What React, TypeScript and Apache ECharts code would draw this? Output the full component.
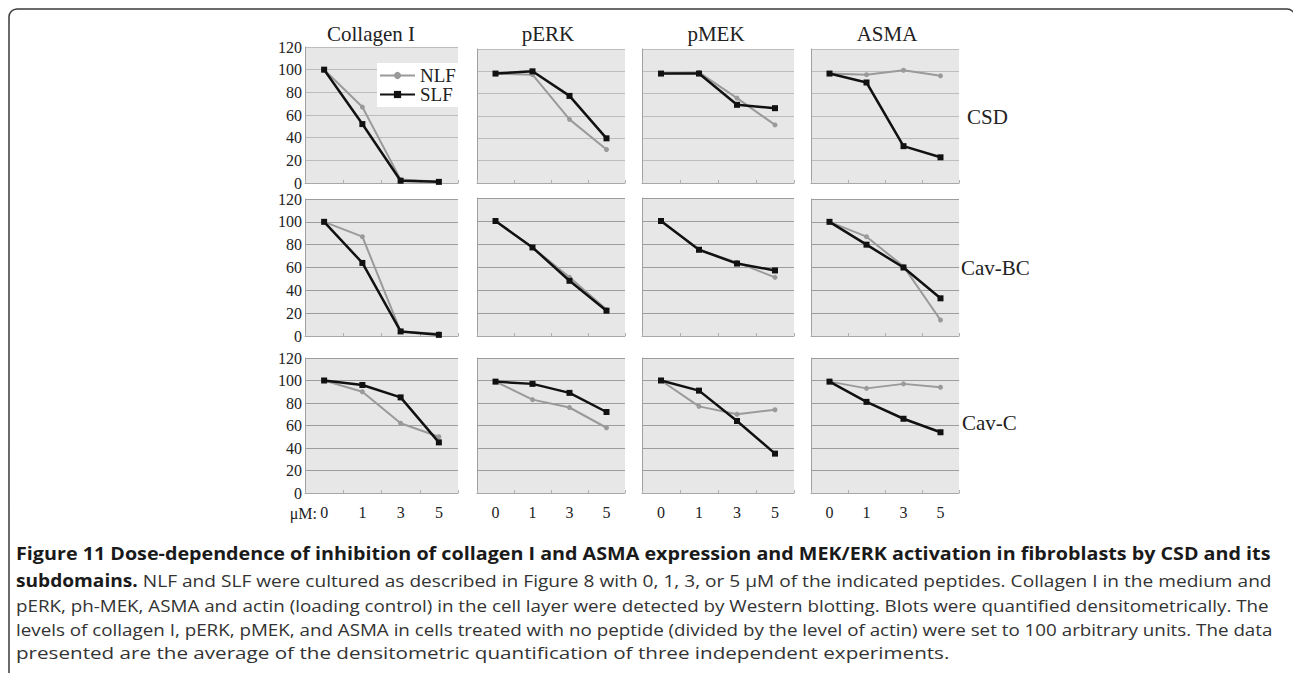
import React, { useEffect, useRef } from "react";
import * as echarts from "echarts";

// ---- data ----
const categories = ["0", "1", "3", "5"];
const panelTitles = ["Collagen I", "pERK", "pMEK", "ASMA"];
const rowLabels = ["CSD", "Cav-BC", "Cav-C"];
const yTicks = { min: 0, max: 120, interval: 20 };

// each row: [Collagen I, pERK, pMEK, ASMA], values at 0, 1, 3, 5 µM
const nlfCSD = [
  [100, 67, 3, 1],
  [98, 97, 57, 30],
  [98, 99, 76, 52],
  [98, 97, 101, 96],
];
const slfCSD = [
  [100, 52, 2, 1],
  [98, 100, 78, 40],
  [98, 98, 70, 67],
  [98, 90, 33, 23],
];
const nlfCavBC = [
  [100, 87, 4, 2],
  [100, 77, 51, 23],
  [100, 75, 64, 51],
  [100, 87, 61, 14],
];
const slfCavBC = [
  [100, 64, 4, 1],
  [100, 77, 48, 22],
  [100, 75, 63, 57],
  [100, 80, 60, 33],
];
const nlfCavC = [
  [100, 90, 62, 50],
  [99, 83, 76, 58],
  [100, 77, 70, 74],
  [99, 93, 97, 94],
];
const slfCavC = [
  [100, 96, 85, 45],
  [99, 97, 89, 72],
  [100, 91, 64, 35],
  [99, 81, 66, 54],
];

const captionBold1 =
  "Figure 11 Dose-dependence of inhibition of collagen I and ASMA expression and MEK/ERK activation in fibroblasts by CSD and its";
const captionBold2 = "subdomains.";
const captionLine2 =
  " NLF and SLF were cultured as described in Figure 8 with 0, 1, 3, or 5 μM of the indicated peptides. Collagen I in the medium and";
const captionLine3 =
  "pERK, ph-MEK, ASMA and actin (loading control) in the cell layer were detected by Western blotting. Blots were quantified densitometrically. The";
const captionLine4 =
  "levels of collagen I, pERK, pMEK, and ASMA in cells treated with no peptide (divided by the level of actin) were set to 100 arbitrary units. The data";
const captionLine5 =
  "presented are the average of the densitometric quantification of three independent experiments.";

// ---- layout (pixels) ----
const colLeft = [305, 477, 642, 811];
const colWidth = [153, 148, 152, 148];
const rowTop = [
  [47, 49, 49, 49],
  [199, 198, 198, 199],
  [358, 358, 358, 358],
];
const rowBottom = [183, 336, 493];
const titleX = [371, 548, 716, 887];
const rowLabelPos = [
  [967, 117],
  [961, 268],
  [962, 423],
];

const SERIF = '"Liberation Serif", "Times New Roman", serif';
const SANS = '"Open Sans", "Noto Sans", sans-serif';

function measure(text: string, font: string): number {
  const c = document.createElement("canvas");
  const ctx = c.getContext("2d")!;
  ctx.font = font;
  return ctx.measureText(text).width;
}

export default function App() {
  const ref = useRef<HTMLDivElement>(null);

  useEffect(() => {
    document.body.style.margin = "0";
    const chart = echarts.init(ref.current!, null, { renderer: "svg" });

    const nlfRows = [nlfCSD, nlfCavBC, nlfCavC];
    const slfRows = [slfCSD, slfCavBC, slfCavC];

    const grids: any[] = [];
    const xAxes: any[] = [];
    const yAxes: any[] = [];
    const series: any[] = [];

    for (let r = 0; r < 3; r++) {
      for (let c = 0; c < 4; c++) {
        const idx = r * 4 + c;
        const top = rowTop[r][c];
        const splitColor = r === 0 ? "#bcbcbc" : "#9c9c9c";
        grids.push({
          left: colLeft[c],
          top,
          width: colWidth[c],
          height: rowBottom[r] - top,
          show: true,
          backgroundColor: "#e7e7e7",
          borderWidth: 0,
        });
        xAxes.push({
          type: "category",
          gridIndex: idx,
          data: categories,
          boundaryGap: true,
          axisLine: { show: true, lineStyle: { color: "#a8a8a8", width: 1 } },
          axisTick: { show: true, inside: true, length: 3, lineStyle: { color: "#b0b0b0" } },
          axisLabel: {
            show: r === 2,
            fontFamily: SERIF,
            fontSize: 16,
            color: "#222",
            margin: 11,
          },
          splitLine: { show: false },
        });
        yAxes.push({
          type: "value",
          gridIndex: idx,
          min: yTicks.min,
          max: yTicks.max,
          interval: yTicks.interval,
          axisLine: { show: true, lineStyle: { color: "#a0a0a0", width: 1 } },
          axisTick: { show: false },
          axisLabel: {
            show: c === 0,
            fontFamily: SERIF,
            fontSize: 16,
            color: "#222",
            margin: 3,
          },
          splitLine: { show: true, lineStyle: { color: splitColor, width: 1 } },
        });
        series.push({
          name: "NLF",
          type: "line",
          xAxisIndex: idx,
          yAxisIndex: idx,
          data: nlfRows[r][c],
          symbol: "circle",
          symbolSize: 5,
          color: "#9a9a9a",
          lineStyle: { color: "#9a9a9a", width: 2 },
          itemStyle: { color: "#9a9a9a" },
          z: 2,
        });
        series.push({
          name: "SLF",
          type: "line",
          xAxisIndex: idx,
          yAxisIndex: idx,
          data: slfRows[r][c],
          symbol: "rect",
          symbolSize: 6,
          color: "#111",
          lineStyle: { color: "#111", width: 2.5 },
          itemStyle: { color: "#111" },
          z: 3,
        });
      }
    }

    const graphic: any[] = [];
    // frame
    graphic.push({
      type: "rect",
      shape: { x: 9, y: 9, width: 1286, height: 720, r: 8 },
      style: { fill: "none", stroke: "#3a3a3a", lineWidth: 1.5 },
      silent: true,
    });
    // column titles
    panelTitles.forEach((t, c) => {
      graphic.push({
        type: "text",
        x: titleX[c],
        y: 34,
        style: {
          text: t,
          font: `21px ${SERIF}`,
          fill: "#222",
          align: "center",
          verticalAlign: "middle",
        },
      });
    });
    // row labels
    rowLabels.forEach((t, r) => {
      graphic.push({
        type: "text",
        x: rowLabelPos[r][0],
        y: rowLabelPos[r][1],
        style: {
          text: t,
          font: `21px ${SERIF}`,
          fill: "#222",
          align: "left",
          verticalAlign: "middle",
        },
      });
    });
    // µM: label
    graphic.push({
      type: "text",
      x: 317,
      y: 513,
      style: {
        text: "μM:",
        font: `16px ${SERIF}`,
        fill: "#222",
        align: "right",
        verticalAlign: "middle",
      },
    });

    // caption
    const capX = 16;
    const fs = 17;
    const boldFont = `bold ${fs}px ${SANS}`;
    const normFont = `${fs}px ${SANS}`;
    const capY = [553, 580, 605, 629, 653];
    const s1 = (1271 - capX) / measure(captionBold1, boldFont);
    const s2 =
      (1273 - capX) /
      (measure(captionBold2, boldFont) + measure(captionLine2, normFont));
    const s3 = (1269 - capX) / measure(captionLine3, normFont);
    const s4 = (1274 - capX) / measure(captionLine4, normFont);
    const s5 = (950 - capX) / measure(captionLine5, normFont);
    graphic.push({
      type: "text",
      x: capX,
      y: capY[0],
      scaleX: s1,
      style: { text: captionBold1, font: boldFont, fill: "#1a1a1a", verticalAlign: "middle" },
    });
    graphic.push({
      type: "text",
      x: capX,
      y: capY[1],
      scaleX: s2,
      style: {
        text: `{b|${captionBold2}}{n|${captionLine2}}`,
        verticalAlign: "middle",
        rich: {
          b: { font: boldFont, fill: "#1a1a1a" },
          n: { font: normFont, fill: "#333" },
        },
      },
    });
    graphic.push({
      type: "text",
      x: capX,
      y: capY[2],
      scaleX: s3,
      style: { text: captionLine3, font: normFont, fill: "#333", verticalAlign: "middle" },
    });
    graphic.push({
      type: "text",
      x: capX,
      y: capY[3],
      scaleX: s4,
      style: { text: captionLine4, font: normFont, fill: "#333", verticalAlign: "middle" },
    });
    graphic.push({
      type: "text",
      x: capX,
      y: capY[4],
      scaleX: s5,
      style: { text: captionLine5, font: normFont, fill: "#333", verticalAlign: "middle" },
    });

    chart.setOption({
      animation: false,
      backgroundColor: "#ffffff",
      grid: grids,
      xAxis: xAxes,
      yAxis: yAxes,
      series,
      legend: {
        data: ["NLF", "SLF"],
        orient: "vertical",
        left: 377,
        top: 63,
        backgroundColor: "#ffffff",
        padding: [3, 2, 3, 2],
        itemGap: 0,
        itemWidth: 35,
        itemHeight: 9,
        itemTextGap: 3,
        selectedMode: false,
        textStyle: {
          fontFamily: SERIF,
          fontSize: 19,
          color: "#222",
          lineHeight: 15,
        },
      },
      graphic,
    });

    return () => chart.dispose();
  }, []);

  return <div ref={ref} style={{ width: 1293, height: 673 }} />;
}
